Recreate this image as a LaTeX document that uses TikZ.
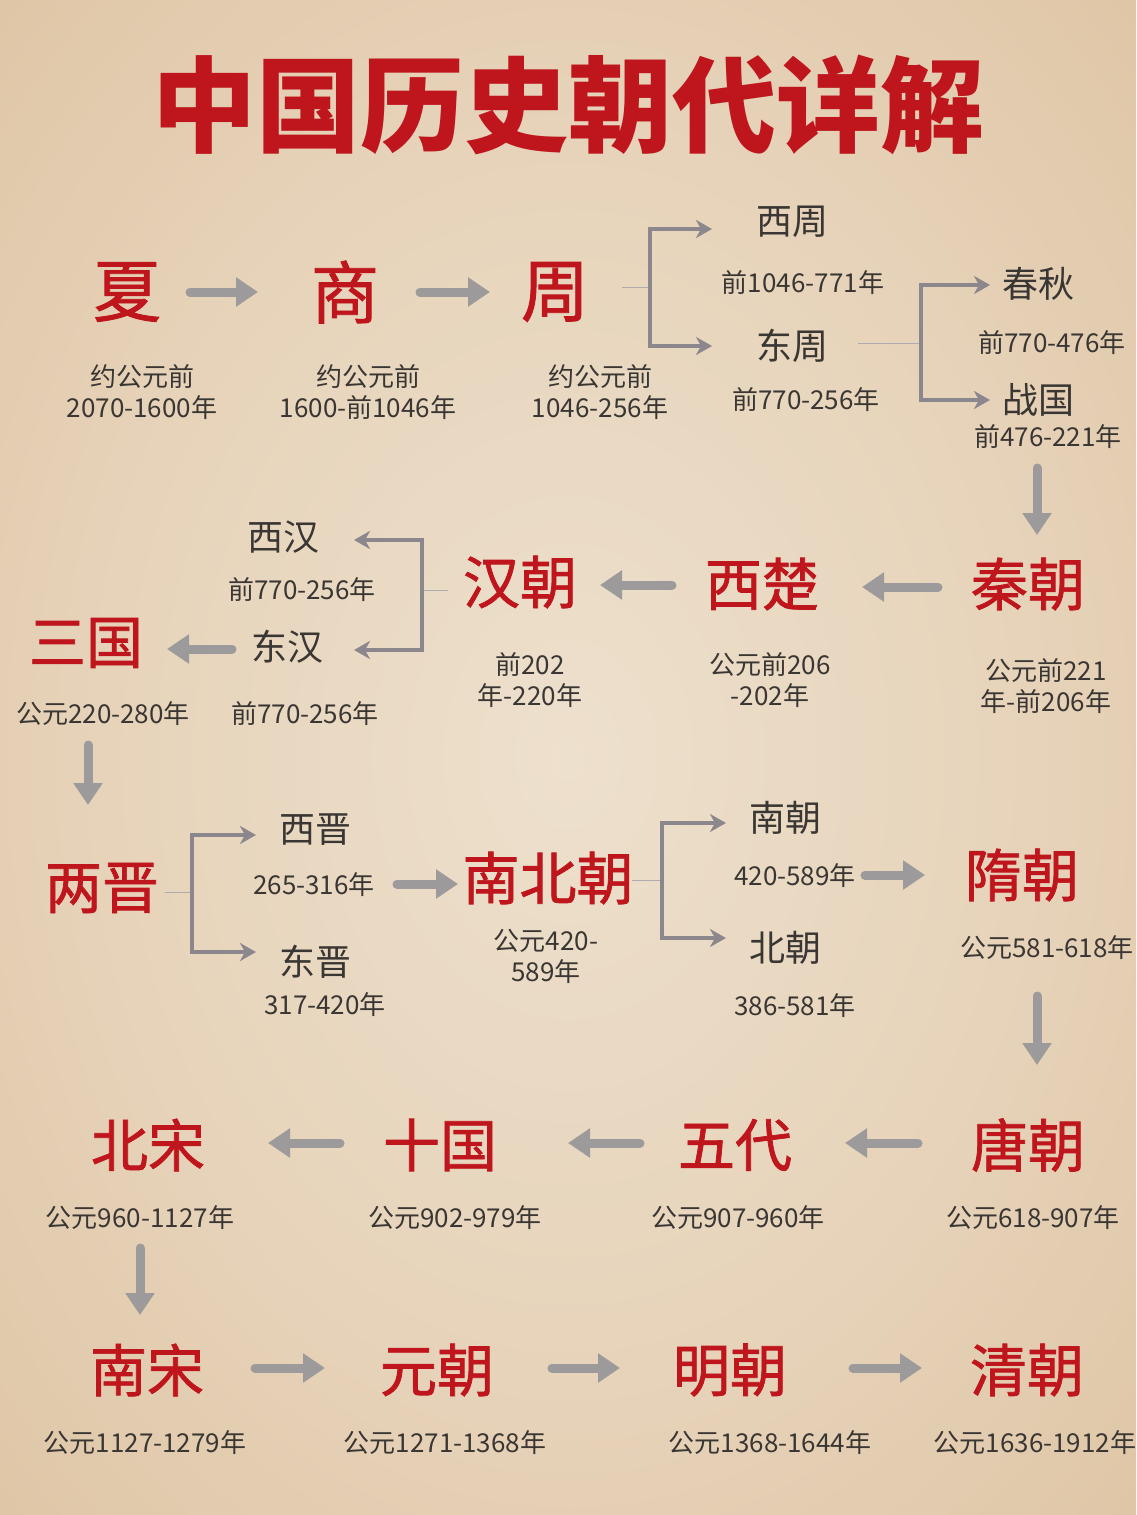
\documentclass[tikz,border=0pt]{standalone}
\usepackage{fontspec}
\newfontfamily\cjk{Noto Sans CJK SC}
\newfontfamily\cjkred[FakeBold=1.3]{Noto Sans CJK SC}
\usetikzlibrary{arrows.meta}
\definecolor{dred}{HTML}{BF161D}
\definecolor{ink}{HTML}{3A3633}
\definecolor{agray}{HTML}{9C9A9A}
\definecolor{bgray}{HTML}{8C878D}
\definecolor{paperlight}{HTML}{EDE0CD}
\definecolor{paper}{HTML}{E6D2B8}
\definecolor{papermid}{HTML}{DABD9A}
\definecolor{paperdark}{HTML}{C9A37A}
\pgfdeclareradialshading{parchment}{\pgfpoint{0bp}{0bp}}{color(0bp)=(paperlight); color(22bp)=(paper); color(45bp)=(papermid); color(72bp)=(paperdark)}
\tikzset{
  dyn/.style={font=\cjkred\fontsize{57}{60}\selectfont, text=dred, inner sep=0pt},
  dynbig/.style={font=\cjkred\fontsize{68}{72}\selectfont, text=dred, inner sep=0pt},
  sub/.style={font=\cjk\fontsize{36}{38}\selectfont, text=ink, inner sep=0pt},
  date/.style={font=\cjk\fontsize{26}{31}\selectfont, text=ink, inner sep=0pt, align=center},
  bigarr/.style={draw=agray, line width=9pt, line cap=round, -{Triangle[length=22pt,width=28pt]}},
  brk/.style={draw=bgray, line width=3.5pt, line join=miter, -{Stealth[length=16pt,width=18pt,inset=5pt]}},
  thinl/.style={draw=bgray!70, line width=1pt},
}
\begin{document}
\begin{tikzpicture}[x=1pt,y=-1pt]
\useasboundingbox (0,0) rectangle (1136,1515);
\shade[shading=parchment] (0,0) rectangle (1136,1515);
% title
\node[font=\cjk\bfseries\fontsize{104}{104}\selectfont, text=dred, inner sep=0pt] (title) at (568,105) {中国历史朝代详解};
% row 1
\node[dynbig] (xia) at (127,292) {夏};
\node[dynbig] (shang) at (345,292) {商};
\node[dynbig] (zhou) at (555,292) {周};
\node[date] (xiad) at (142,392) {约公元前\\2070-1600年};
\node[date] (shangd) at (368,392) {约公元前\\1600-前1046年};
\node[date] (zhoud) at (600,392) {约公元前\\1046-256年};
\node[sub] (xizhou) at (792,222) {西周};
\node[date] (xizhoud) at (803,283) {前1046-771年};
\node[sub] (dongzhou) at (792,346) {东周};
\node[date] (dongzhoud) at (806,400) {前770-256年};
\node[sub] (chunqiu) at (1038,284) {春秋};
\node[date] (chunqiud) at (1052,343) {前770-476年};
\node[sub] (zhanguo) at (1038,400) {战国};
\node[date] (zhanguod) at (1048,437) {前476-221年};
\draw[bigarr] ([xshift=63pt]xia.center) -- ([xshift=-87pt]shang.center);
\draw[bigarr] ([xshift=75pt]shang.center) -- ([xshift=-65pt]zhou.center);
\coordinate (zb) at (650,287);
\draw[thinl] ([xshift=67pt]zhou.center |- zb) -- (zb);
\draw[brk] (zb) |- ([xshift=-80pt,yshift=-7pt]xizhou.center);
\draw[brk] (zb) |- ([xshift=-80pt]dongzhou.center);
\coordinate (db) at (921,343);
\draw[thinl] ([xshift=66pt]dongzhou.center |- db) -- (db);
\draw[brk] (db) |- ([xshift=-48pt,yshift=-1pt]chunqiu.center);
\draw[brk] (db) |- ([xshift=-48pt]zhanguo.center);
% row 2
\node[dyn] (qin) at (1028,584) {秦朝};
\node[date] (qind) at (1046,686) {公元前221\\年-前206年};
\node[dyn] (xichu) at (762,584) {西楚};
\node[date] (xichud) at (770,680) {公元前206\\-202年};
\node[dyn] (han) at (520,582) {汉朝};
\node[date] (hand) at (530,680) {前202\\年-220年};
\draw[bigarr] ([xshift=-11pt,yshift=-31pt]zhanguod.center) -- ([xshift=9pt,yshift=49pt]qin.center);
\draw[bigarr] ([xshift=-90pt,yshift=-3pt]qin.center) -- ([xshift=100pt,yshift=-3pt]xichu.center);
\draw[bigarr] ([xshift=-90pt,yshift=-1pt]xichu.center) -- ([xshift=80pt,yshift=-3pt]han.center);
\coordinate (hb) at (422,590);
\draw[thinl] ([xshift=-72pt]han.center |- hb) -- (hb);
\node[sub] (xihan) at (283,537) {西汉};
\node[date] (xihand) at (302,590) {前770-256年};
\node[sub] (donghan) at (287,647) {东汉};
\node[date] (donghand) at (305,714) {前770-256年};
\draw[brk] (hb) |- ([xshift=71pt,yshift=-3pt]xihan.center);
\draw[brk] (hb) |- ([xshift=67pt,yshift=-3pt]donghan.center);
\node[dyn] (sanguo) at (86,643) {三国};
\node[date] (sanguod) at (103,714) {公元220-280年};
\draw[bigarr] ([xshift=-55pt,yshift=-2pt]donghan.center) -- ([xshift=81pt,yshift=-6pt]sanguo.center);
% row 3
\node[dyn] (liangjin) at (102,888) {两晋};
\draw[bigarr] ([xshift=-15pt,yshift=-31pt]sanguod.center) -- ([xshift=-14pt,yshift=83pt]liangjin.center);
\coordinate (jb) at (192,892);
\draw[thinl] ([xshift=63pt]liangjin.center |- jb) -- (jb);
\node[sub] (xijin) at (315,830) {西晋};
\node[date] (xijind) at (314,885) {265-316年};
\node[sub] (dongjin) at (315,962) {东晋};
\node[date] (dongjind) at (325,1005) {317-420年};
\draw[brk] (jb) |- ([xshift=-59pt,yshift=-5pt]xijin.center);
\draw[brk] (jb) |- ([xshift=-59pt,yshift=10pt]dongjin.center);
\node[dyn] (nanbei) at (548,878) {南北朝};
\node[date] (nanbeid) at (546,956) {公元420-\\589年};
\draw[bigarr] ([xshift=83pt,yshift=1pt]xijind.center) -- ([xshift=-90pt,yshift=-6pt]nanbei.center);
\coordinate (nb) at (662,880);
\draw[thinl] ([xshift=84pt]nanbei.center |- nb) -- (nb);
\node[sub] (nanchao) at (785,818) {南朝};
\node[date] (nanchaod) at (795,876) {420-589年};
\node[sub] (beichao) at (785,948) {北朝};
\node[date] (beichaod) at (795,1006) {386-581年};
\draw[brk] (nb) |- ([xshift=-59pt,yshift=-5pt]nanchao.center);
\draw[brk] (nb) |- ([xshift=-59pt,yshift=10pt]beichao.center);
\node[dyn] (sui) at (1022,875) {隋朝};
\node[date] (suid) at (1047,948) {公元581-618年};
\draw[bigarr] ([xshift=70pt,yshift=1pt]nanchaod.center) -- ([xshift=-97pt]sui.center);
% row 4
\node[dyn] (tang) at (1028,1145) {唐朝};
\node[date] (tangd) at (1033,1218) {公元618-907年};
\node[dyn] (wudai) at (735,1145) {五代};
\node[date] (wudaid) at (738,1218) {公元907-960年};
\node[dyn] (shiguo) at (440,1145) {十国};
\node[date] (shiguod) at (455,1218) {公元902-979年};
\node[dyn] (beisong) at (148,1145) {北宋};
\node[date] (beisongd) at (140,1218) {公元960-1127年};
\draw[bigarr] ([xshift=-10pt,yshift=-48pt]suid.center) -- ([xshift=9pt,yshift=80pt]tang.center);
\draw[bigarr] ([xshift=-110pt,yshift=2pt]tang.center) -- ([xshift=110pt,yshift=2pt]wudai.center);
\draw[bigarr] ([xshift=-95pt,yshift=2pt]wudai.center) -- ([xshift=128pt,yshift=2pt]shiguo.center);
\draw[bigarr] ([xshift=-100pt,yshift=2pt]shiguo.center) -- ([xshift=120pt,yshift=2pt]beisong.center);
% row 5
\node[dyn] (nansong) at (147,1370) {南宋};
\node[date] (nansongd) at (145,1443) {公元1127-1279年};
\node[dyn] (yuan) at (437,1370) {元朝};
\node[date] (yuand) at (445,1443) {公元1271-1368年};
\node[dyn] (ming) at (730,1370) {明朝};
\node[date] (mingd) at (770,1443) {公元1368-1644年};
\node[dyn] (qing) at (1027,1370) {清朝};
\node[date] (qingd) at (1035,1443) {公元1636-1912年};
\draw[bigarr] ([yshift=-30pt]beisongd.center) -- ([xshift=-7pt,yshift=55pt]nansong.center);
\draw[bigarr] ([xshift=108pt,yshift=2pt]nansong.center) -- ([xshift=-112pt,yshift=2pt]yuan.center);
\draw[bigarr] ([xshift=115pt,yshift=2pt]yuan.center) -- ([xshift=-110pt,yshift=2pt]ming.center);
\draw[bigarr] ([xshift=123pt,yshift=2pt]ming.center) -- ([xshift=-105pt,yshift=2pt]qing.center);
\end{tikzpicture}
\end{document}
